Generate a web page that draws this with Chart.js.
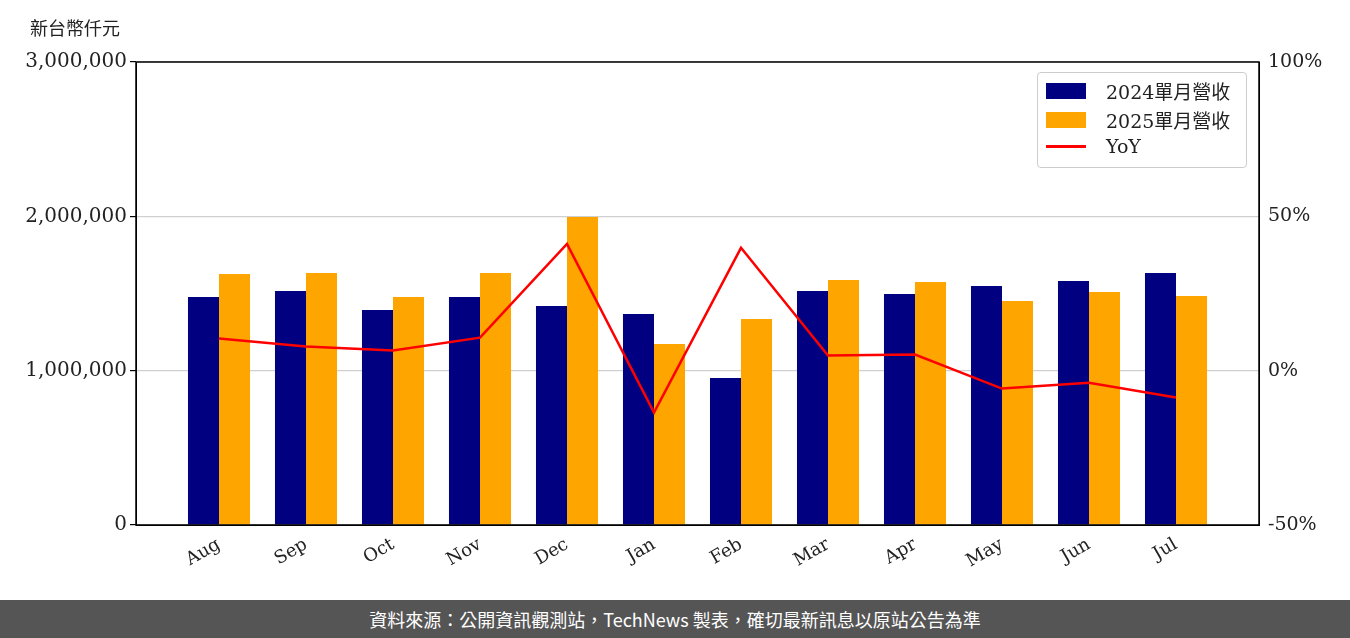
<!DOCTYPE html>
<html><head><meta charset="utf-8">
<script src="https://cdn.jsdelivr.net/npm/chart.js@4"></script>
<style>
body{margin:0;width:1350px;height:638px;background:#fff;position:relative;overflow:hidden;font-family:"Noto Sans CJK TC",sans-serif}
#wrap{position:absolute;left:0;top:0;width:1350px;height:600px}
#foot{position:absolute;left:0;top:600px;width:1350px;height:38px;background:#555;color:#fff;font-size:18px;text-align:center;line-height:38px}
#unit{position:absolute;left:30px;top:14px;font-size:18px;color:#222}
#legend{position:absolute;left:1037px;top:72px;width:208px;height:94px;border:1px solid #ccc;border-radius:4px;background:rgba(255,255,255,0.85);font-family:"DejaVu Serif","Noto Sans CJK TC",serif;font-size:19px;color:#222}
.row{position:absolute;left:8px;display:flex;align-items:center}
.sw{width:40px;height:16px;margin-right:20px}
</style></head><body>
<div id="wrap"><canvas id="c" width="1350" height="600"></canvas></div>
<div id="unit">新台幣仟元</div>
<div id="legend">
<div class="row" style="top:4px"><div class="sw" style="background:#000080"></div>2024單月營收</div>
<div class="row" style="top:33px"><div class="sw" style="background:#FFA500"></div>2025單月營收</div>
<div class="row" style="top:62px"><div class="sw" style="height:3px;background:#f00"></div>YoY</div>
</div>
<div id="foot">資料來源：公開資訊觀測站，TechNews 製表，確切最新訊息以原站公告為準</div>
<script>
const categories=["Aug","Sep","Oct","Nov","Dec","Jan","Feb","Mar","Apr","May","Jun","Jul"];
const rev2024=[1478000,1517000,1393000,1478000,1419000,1367000,953000,1517000,1497000,1549000,1581000,1633000];
const rev2025=[1627000,1633000,1478000,1633000,1996000,1173000,1335000,1588000,1575000,1452000,1510000,1484000];
const yoy=[10.4,7.8,6.5,10.7,41.1,-13.6,39.8,4.9,5.2,-5.8,-3.9,-8.7];
const leftTicks=[0,1000000,2000000,3000000];
const rightTicks=[-50,0,50,100];
const pts=a=>a.map((v,i)=>({x:i,y:v}));
const serif="'DejaVu Serif', serif";
const frame={id:'frame',afterDraw(ch){const a=ch.chartArea,c=ch.ctx;c.save();c.strokeStyle='#000';c.lineWidth=1.5;c.strokeRect(a.left,a.top,a.right-a.left,a.bottom-a.top);c.restore();}};
new Chart(document.getElementById('c'),{
data:{datasets:[
{type:'line',label:'YoY',data:pts(yoy),yAxisID:'y1',borderColor:'#f00',borderWidth:2.5,pointRadius:0,tension:0,order:0},
{type:'bar',label:'2024單月營收',data:pts(rev2024),backgroundColor:'#000080',categoryPercentage:0.713,barPercentage:1,yAxisID:'y',order:1},
{type:'bar',label:'2025單月營收',data:pts(rev2025),backgroundColor:'#FFA500',categoryPercentage:0.713,barPercentage:1,yAxisID:'y',order:1}
]},
options:{responsive:false,animation:false,layout:{padding:{top:62,left:0,right:0,bottom:0}},
plugins:{legend:{display:false},tooltip:{enabled:false}},
scales:{
x:{type:'linear',min:-0.954,max:11.954,offset:false,
 afterBuildTicks(s){s.ticks=categories.map((_,i)=>({value:i}));},
 afterFit(s){s.height=75;},
 grid:{display:false,drawTicks:true,tickLength:6,tickColor:'#000'},border:{color:'#000'},
 ticks:{callback:(v)=>categories[v],minRotation:30,maxRotation:30,color:'#222',font:{family:serif,size:18},autoSkip:false}},
y:{position:'left',min:0,max:3000000,
 afterBuildTicks(s){s.ticks=leftTicks.map(v=>({value:v}));},
 afterFit(s){s.width=136;},
 grid:{color:'#d0d0d0',lineWidth:1.2,tickColor:'#000',tickLength:6},border:{color:'#000'},
 ticks:{color:'#222',font:{family:serif,size:20},callback:v=>v.toLocaleString('en-US')}},
y1:{position:'right',min:-50,max:100,
 afterBuildTicks(s){s.ticks=rightTicks.map(v=>({value:v}));},
 afterFit(s){s.width=91;},
 grid:{display:false,drawOnChartArea:false,tickLength:6,tickColor:'#000'},border:{color:'#000'},
 ticks:{color:'#222',font:{family:serif,size:19},callback:v=>v+'%'}}
}},
plugins:[frame]});
</script>
</body></html>
